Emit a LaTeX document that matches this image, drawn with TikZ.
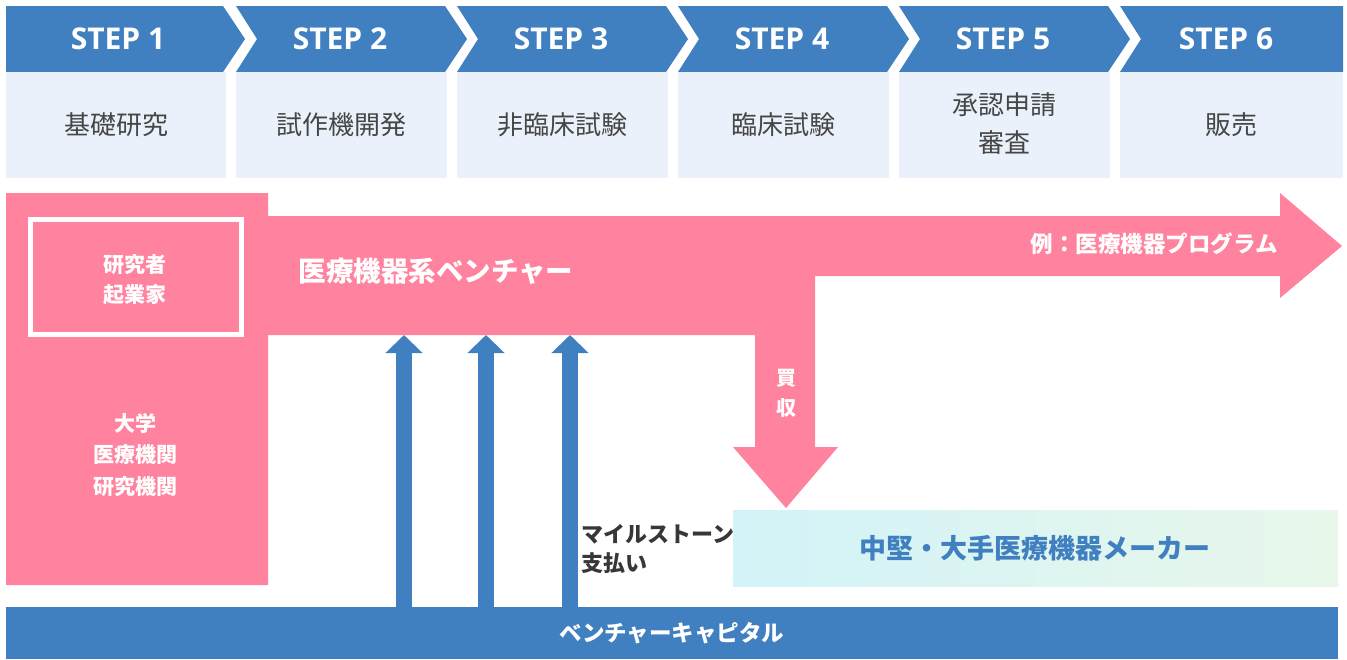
\documentclass[tikz,border=0pt]{standalone}
\usepackage{fontspec}
\setmainfont{Open Sans}
\newfontfamily\jp{Noto Sans CJK JP}
\usetikzlibrary{arrows.meta}
\definecolor{hblue}{RGB}{64,128,192}
\definecolor{vpink}{RGB}{255,130,158}
\definecolor{lightbox}{RGB}{234,241,250}
\definecolor{txtgray}{RGB}{70,70,70}
\definecolor{darktxt}{RGB}{55,55,55}
\definecolor{cyanl}{RGB}{210,243,248}
\definecolor{greenl}{RGB}{233,247,234}
\tikzset{
  steptxt/.style={text=white, font=\bfseries\fontsize{30}{34}\selectfont, inner sep=0pt},
  boxtxt/.style={text=txtgray, font=\jp\fontsize{26}{38}\selectfont, align=center, inner sep=0pt},
  whitetxt/.style={text=white, font=\jp\bfseries\fontsize{21}{31}\selectfont, align=center, inner sep=0pt},
  varrow/.style={hblue, line width=16pt, -{Triangle[length=18pt, width=36pt]}},
}
\begin{document}
\begin{tikzpicture}[x=1pt,y=-1pt]
\useasboundingbox (0,0) rectangle (1347,659);
% ---- step headers
\fill[hblue] (6,6) -- (223,6) -- (245,39) -- (223,72) -- (6,72) -- cycle;
\foreach \l/\r in {236/445, 457/666, 678/887, 899/1108}{
  \fill[hblue] (\l,6) -- (\r,6) -- (\r+22,39) -- (\r,72) -- (\l,72) -- (\l+21,39) -- cycle;
}
\fill[hblue] (1120,6) -- (1343,6) -- (1343,72) -- (1120,72) -- (1141,39) -- cycle;
% ---- step boxes
\foreach \l/\r in {6/226, 236/447, 457/668, 678/889, 899/1110, 1120/1343}{
  \fill[lightbox] (\l,72) rectangle (\r,178);
}
\node[steptxt] (s1) at (118,39) {STEP 1};
\node[steptxt] (s2) at (340,39) {STEP 2};
\node[steptxt] (s3) at (561,39) {STEP 3};
\node[steptxt] (s4) at (782,39) {STEP 4};
\node[steptxt] (s5) at (1003,39) {STEP 5};
\node[steptxt] (s6) at (1226,39) {STEP 6};
\node[boxtxt] (t1) at (116,125) {基礎研究};
\node[boxtxt] (t2) at (341.5,125) {試作機開発};
\node[boxtxt] (t3) at (562.5,125) {非臨床試験};
\node[boxtxt] (t4) at (783.5,125) {臨床試験};
\node[boxtxt] (t5) at (1004.5,124) {承認申請\\審査};
\node[boxtxt] (t6) at (1231.5,125) {販売};
% ---- pink venture shape
\fill[vpink] (6,193) -- (268,193) -- (268,216) -- (1280,216) -- (1280,193) -- (1342,246)
  -- (1280,298) -- (1280,276) -- (815,276) -- (815,447) -- (838,447) -- (786,508)
  -- (733,447) -- (755,447) -- (755,335) -- (268,335) -- (268,585) -- (6,585) -- cycle;
\draw[white, line width=5pt] (30.5,219.5) rectangle (241.5,334.5);
\node[whitetxt, font=\jp\bfseries\fontsize{21}{30}\selectfont] (res) at (135,280) {研究者\\起業家};
\node[whitetxt, font=\jp\bfseries\fontsize{27.5}{32}\selectfont] (venture) at (436,271) {医療機器系ベンチャー};
\node[whitetxt, font=\jp\bfseries\fontsize{22.5}{26}\selectfont, anchor=east] (prog) at (1278,244) {例：医療機器プログラム};
\node[whitetxt, font=\jp\bfseries\fontsize{21}{31.5}\selectfont] (univ) at (135,455) {大学\\医療機関\\研究機関};
\node[whitetxt, font=\jp\bfseries\fontsize{20}{30}\selectfont] (buy) at (786,393) {買\\収};
% ---- maker box
\shade[left color=cyanl, right color=greenl] (733,510) rectangle (1338,586);
\node[text=hblue, font=\jp\bfseries\fontsize{27}{30}\selectfont, inner sep=0pt] (maker) at (1035,548) {中堅・大手医療機器メーカー};
% ---- VC band
\fill[hblue] (6,607) rectangle (1338,659);
\node[whitetxt, font=\jp\bfseries\fontsize{22.5}{26}\selectfont] (vc) at (672,633) {ベンチャーキャピタル};
% ---- milestone arrows
\coordinate (vcA) at (404,607); \coordinate (vA) at (404,335);
\coordinate (vcB) at (486,607); \coordinate (vB) at (486,335);
\coordinate (vcC) at (570,607); \coordinate (vC) at (570,335);
\draw[varrow] (vcA) -- (vA);
\draw[varrow] (vcB) -- (vB);
\draw[varrow] (vcC) -- (vC);
\node[text=darktxt, font=\jp\bfseries\fontsize{22}{29}\selectfont, align=left, anchor=west, inner sep=0pt] (mile) at (581,549) {マイルストーン\\支払い};
\end{tikzpicture}
\end{document}
